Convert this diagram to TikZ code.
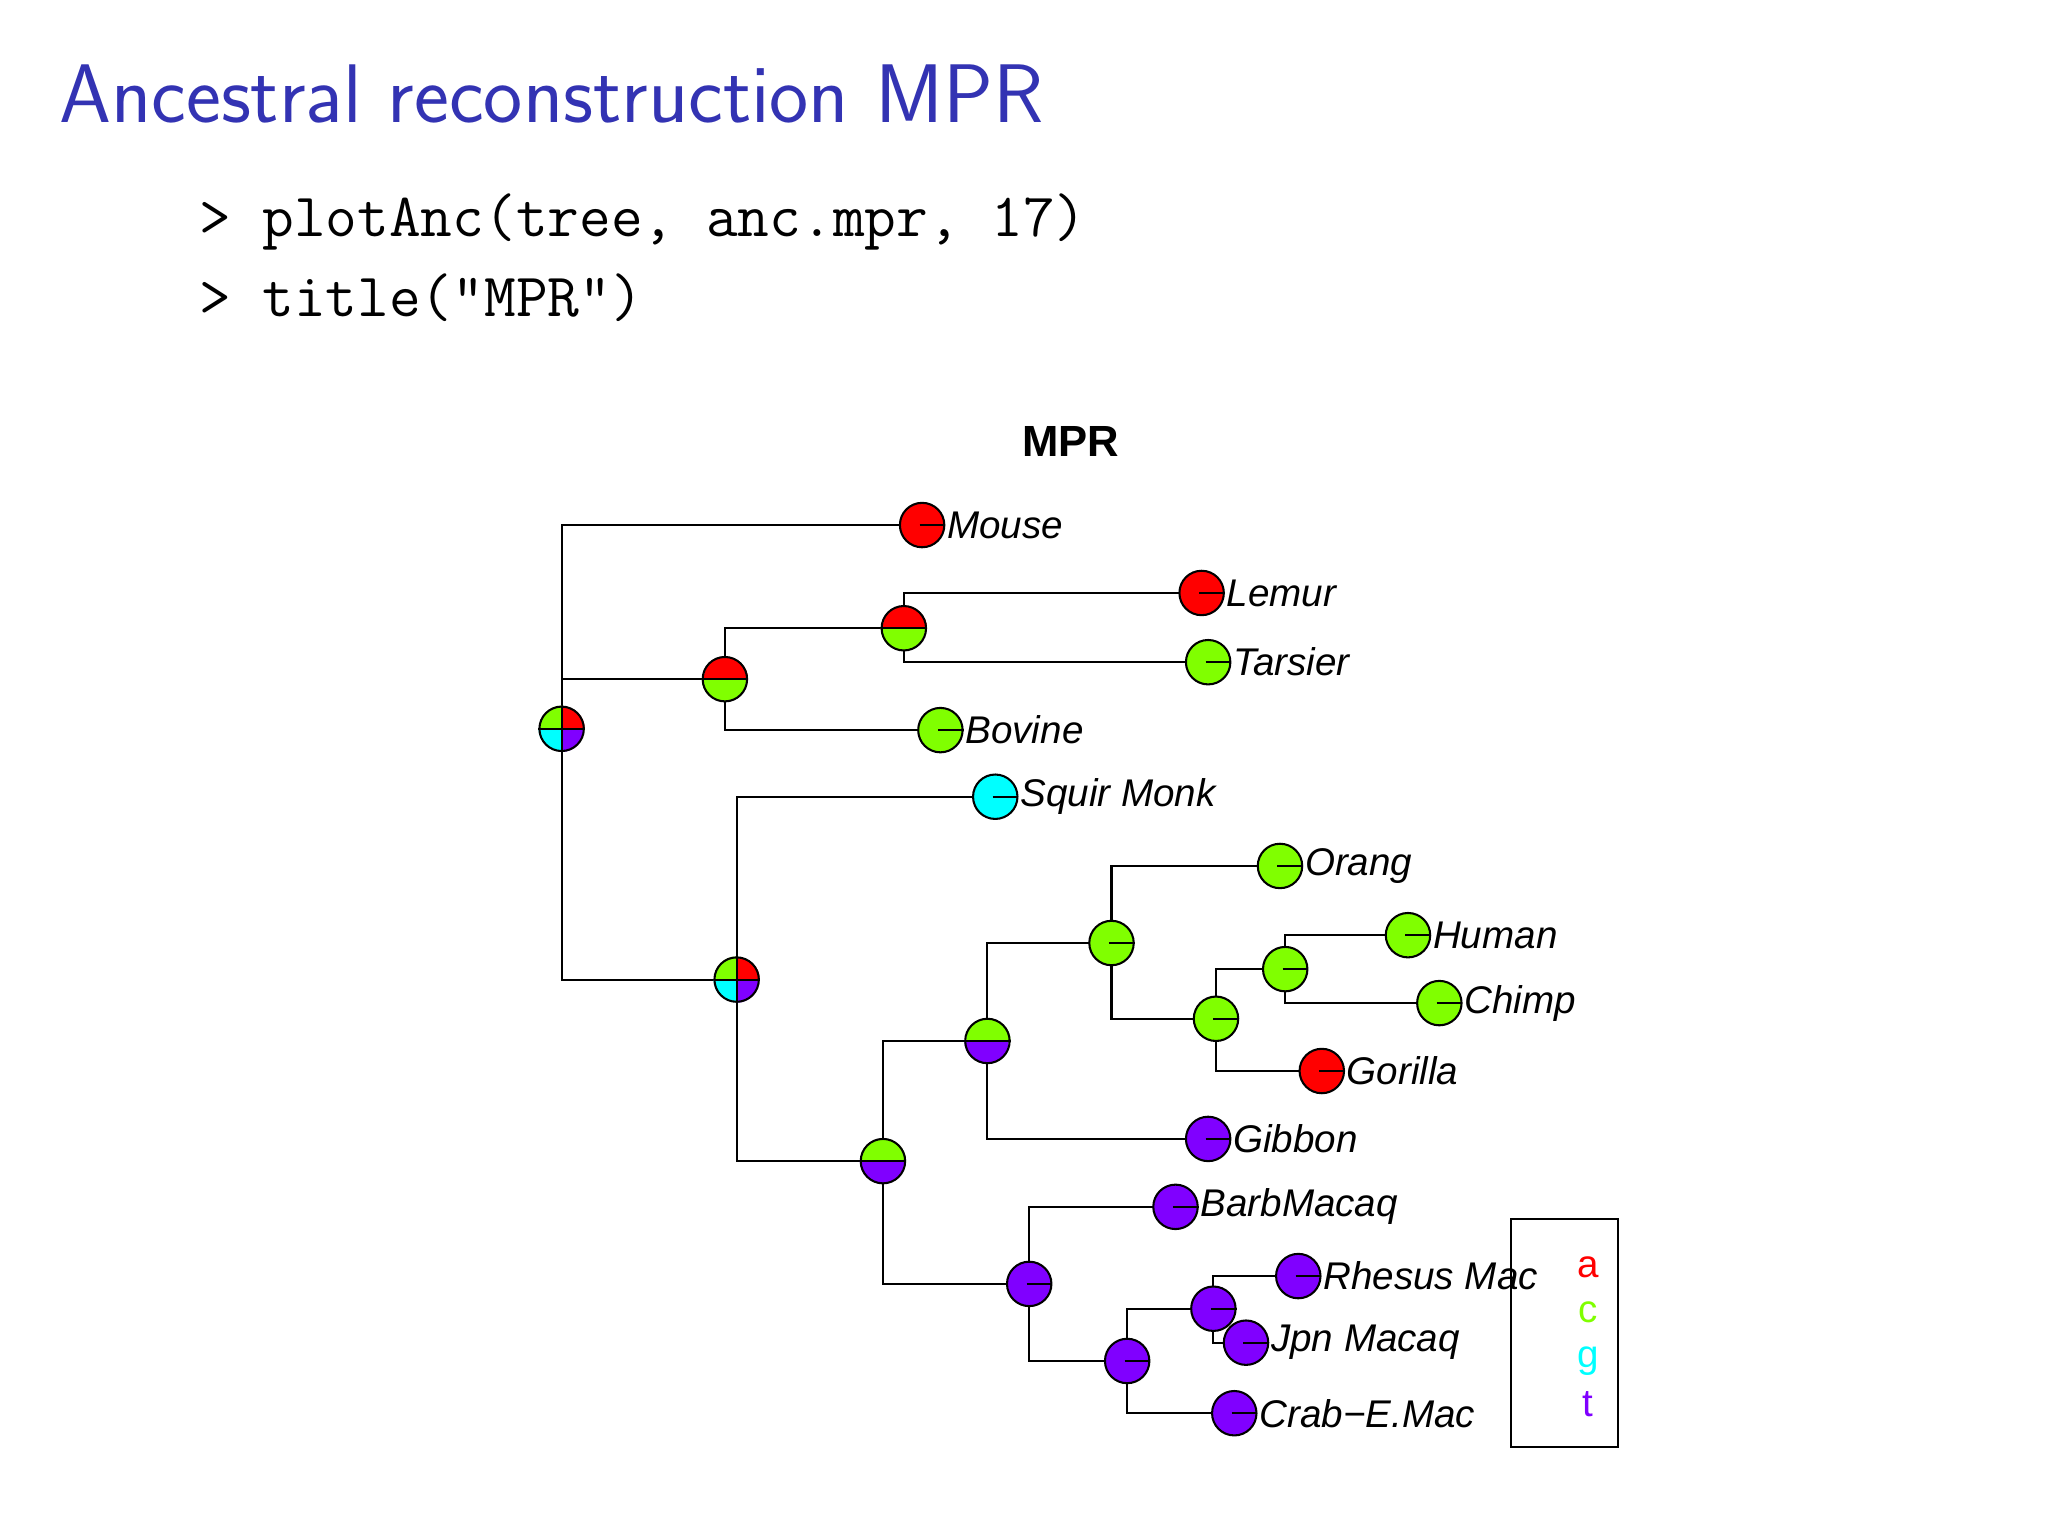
\documentclass[tikz,border=0pt]{standalone}
\usepackage{fontspec}
\newfontfamily\arialf{Liberation Sans}
\begin{document}
\begin{tikzpicture}[x=0.01cm,y=-0.01cm,
  nd/.style={circle,minimum size=0.34cm,inner sep=0pt},
  lab/.style={anchor=west,inner sep=1pt,font=\arialf\itshape\fontsize{8.4}{10}\selectfont},
  edge/.style={line width=0.45pt}]
\definecolor{ra}{HTML}{FF0000}\definecolor{gc}{HTML}{80FF00}
\definecolor{cg}{HTML}{00FFFF}\definecolor{pt}{HTML}{8000FF}
\definecolor{tblue}{HTML}{3333B3}
\fill[white] (0,0) rectangle (1568,1176);
\node[anchor=west,text=tblue,font=\sffamily\fontsize{18.1}{21}\selectfont] at (33,72) {Ancestral reconstruction MPR};
\node[anchor=west,font=\ttfamily\fontsize{13.4}{15}\selectfont] at (140,170) {> plotAnc(tree, anc.mpr, 17)};
\node[anchor=west,font=\ttfamily\fontsize{13.4}{15}\selectfont] at (140,228) {> title("MPR")};
\node[font=\arialf\bfseries\fontsize{9.5}{11}\selectfont] at (820,338) {MPR};
% nodes
\foreach \n/\x/\y in {A/430/558,B/555/520,C/692/481,Mouse/706/402,Lemur/920/454,Tarsier/925/507,Bovine/720/559,
 D/564/750,Squir/762/610,E/676/889,F/756/797,G/851/722,Orang/980/663,H/931/780,I/984/742,Human/1078/716,
 Chimp/1102/768,Gorilla/1012/820,Gibbon/925/872,J/788/983,Barb/900/924,K/863/1042,L/929/1002,Rhesus/994/977,
 Jpn/954/1028,Crab/945/1082}
 \node[nd] (\n) at (\x,\y) {};
% edges
\foreach \p/\c in {A/Mouse,A/B,A/D,B/C,B/Bovine,C/Lemur,C/Tarsier,D/Squir,D/E,E/F,E/J,F/G,F/Gibbon,G/Orang,G/H,
 H/I,H/Gorilla,I/Human,I/Chimp,J/Barb,J/K,K/L,K/Crab,L/Rhesus,L/Jpn}
 \draw[edge] (\p.center) |- (\c.center);
% fills
\foreach \n/\c in {Mouse/ra,Lemur/ra,Gorilla/ra,Tarsier/gc,Bovine/gc,G/gc,Orang/gc,H/gc,I/gc,Human/gc,Chimp/gc,
 Squir/cg,Gibbon/pt,J/pt,Barb/pt,K/pt,L/pt,Rhesus/pt,Jpn/pt,Crab/pt}
 \fill[\c] (\n) circle[radius=0.17cm];
\foreach \n/\t/\b in {B/ra/gc,C/ra/gc,E/gc/pt,F/gc/pt}{
 \fill[\t] (\n.center) -- (\n.east) arc[start angle=0,end angle=180,radius=0.17cm] -- cycle;
 \fill[\b] (\n.center) -- (\n.west) arc[start angle=180,end angle=360,radius=0.17cm] -- cycle;
 \draw[edge] (\n.west) -- (\n.east);}
\foreach \n in {A,D}{
 \fill[gc] (\n.center) -- (\n.north) arc[start angle=90,end angle=180,radius=0.17cm] -- cycle;
 \fill[ra] (\n.center) -- (\n.east) arc[start angle=0,end angle=90,radius=0.17cm] -- cycle;
 \fill[cg] (\n.center) -- (\n.west) arc[start angle=180,end angle=270,radius=0.17cm] -- cycle;
 \fill[pt] (\n.center) -- (\n.south) arc[start angle=270,end angle=360,radius=0.17cm] -- cycle;
 \draw[edge] (\n.west) -- (\n.east) (\n.north) -- (\n.south);}
\foreach \n in {A,B,C,Mouse,Lemur,Tarsier,Bovine,D,Squir,E,F,G,Orang,H,I,Human,Chimp,Gorilla,Gibbon,J,Barb,K,L,Rhesus,Jpn,Crab}{
 \draw[edge] (\n) circle[radius=0.17cm];
 \draw[edge] ([xshift=-0.02cm]\n.center) -- (\n.east);}
% labels
\foreach \n/\t in {Mouse/Mouse,Lemur/Lemur,Tarsier/Tarsier,Bovine/Bovine,Squir/Squir Monk,Orang/Orang,Human/Human,
 Chimp/Chimp,Gorilla/Gorilla,Gibbon/Gibbon,Barb/BarbMacaq,Rhesus/Rhesus Mac,Jpn/Jpn Macaq,Crab/Crab{\normalfont\arialf\itshape\char"2212}E.Mac}
 \node[lab] at ([xshift=0.15cm]\n.center) {\t};
% legend
\draw[edge] (1157,933) rectangle (1239,1108);
\foreach \t/\c/\y in {a/ra/970,c/gc/1005,g/cg/1042,t/pt/1075}
 \node[text=\c,font=\arialf\fontsize{8.4}{10}\selectfont] at (1216,\y) {\t};
\end{tikzpicture}
\end{document}
